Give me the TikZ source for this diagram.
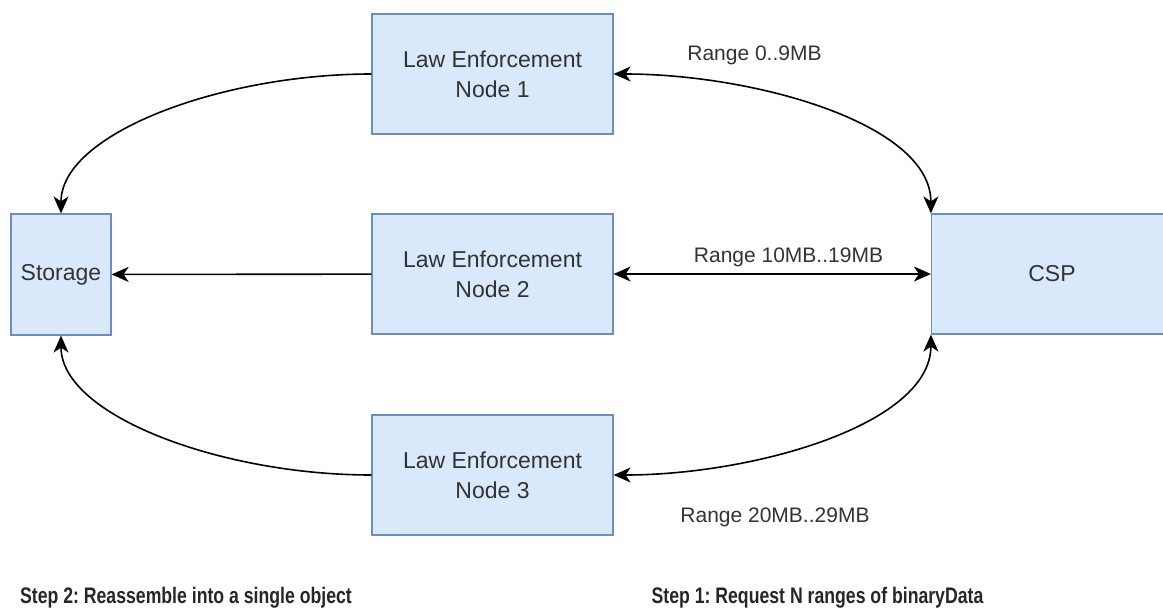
\documentclass[tikz,border=0pt]{standalone}
\usepackage{fontspec}
\setmainfont{Liberation Sans}
\usepackage{tikz}
\usetikzlibrary{arrows.meta}

\definecolor{boxfill}{HTML}{DAE8FC}
\definecolor{boxline}{HTML}{6C8EBF}
\definecolor{textgray}{HTML}{333333}

\frenchspacing

\begin{document}
\begin{tikzpicture}[x=100pt, y=-100pt, align=center,
  box/.style={rectangle, draw=boxline, fill=boxfill, line width=1.2pt,
    text=textgray, font=\fontsize{23}{30}\selectfont, inner sep=0pt},
  lenode/.style={box, minimum width=241pt, minimum height=120pt},
  rangelabel/.style={text=textgray, font=\fontsize{21}{25}\selectfont},
  steplabel/.style={text=black!85, font=\bfseries\fontsize{22.5}{26}\selectfont,
    xscale=0.785, transform shape},
  every path/.style={line width=1.6pt},
  >={Stealth[length=17pt, width=15pt, inset=5pt]}]

\useasboundingbox (0, 0) rectangle (11.63, 6.16);

\node [box, minimum width=100pt, minimum height=121pt] (storage) at (0.61, 2.745) {Storage};
\node [lenode] (le1) at (4.925, 0.74) {Law Enforcement\\Node 1};
\node [lenode] (le2) at (4.925, 2.74) {Law Enforcement\\Node 2};
\node [lenode] (le3) at (4.925, 4.75) {Law Enforcement\\Node 3};
\node [lenode] (csp) at (10.52, 2.74) {CSP};

\draw [->] (le2) -- (storage);
\draw [->] (le1.west) to [out=180, in=90, out distance=150pt, in distance=80pt] (storage.north);
\draw [->] (le3.west) to [out=180, in=270, out distance=150pt, in distance=80pt] (storage.south);

\draw [<->] (le1.east) to [out=0, in=90, out distance=140pt, in distance=90pt] (csp.north west);
\draw [<->] (le2) -- (csp);
\draw [<->] (le3.east) to [out=0, in=270, out distance=140pt, in distance=90pt] (csp.south west);

\node [rangelabel] (r1) at (7.545, 0.55) {Range 0..9MB};
\node [rangelabel] (r2) at (7.885, 2.57) {Range 10MB..19MB};
\node [rangelabel] (r3) at (7.75, 5.17) {Range 20MB..29MB};

\node [steplabel] (step2) at (1.86, 5.98) {Step 2: Reassemble into a single object};
\node [steplabel] (step1) at (8.175, 5.98) {Step 1: Request N ranges of binaryData};

\end{tikzpicture}
\end{document}
